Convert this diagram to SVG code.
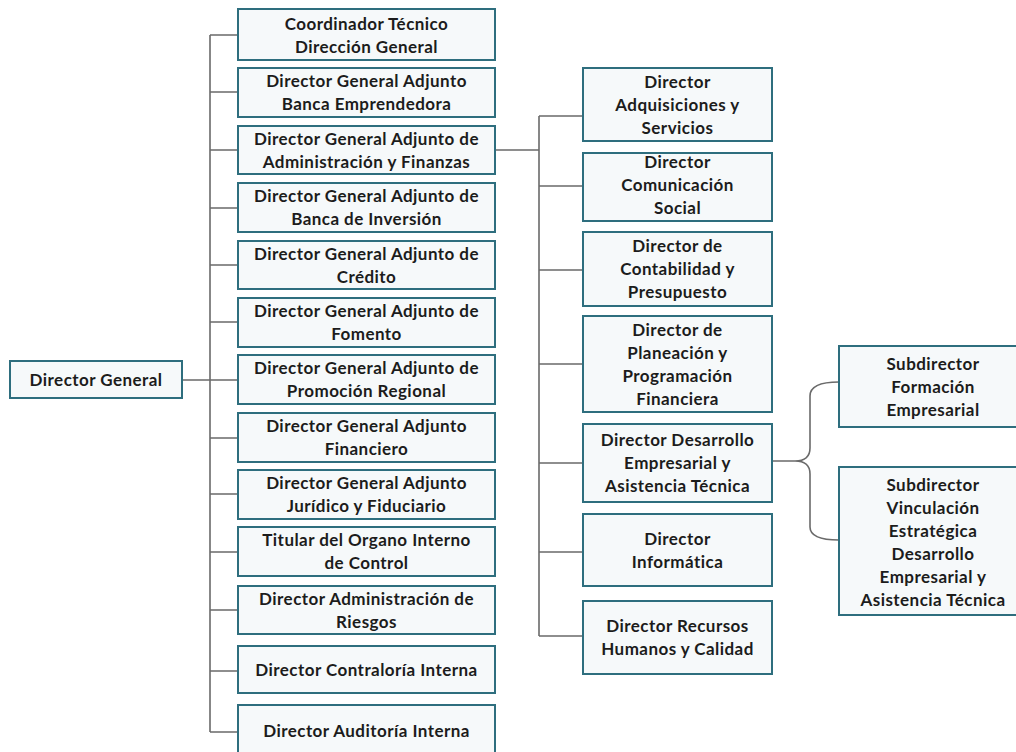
<svg xmlns="http://www.w3.org/2000/svg" width="1016" height="752" viewBox="0 0 1016 752">
<style>
.box{fill:#f6f9fa;stroke:#2e6e7e;stroke-width:2}
.t{font-family:Lato,"Liberation Sans",sans-serif;font-weight:bold;font-size:17px;letter-spacing:0.45px;fill:#1c1c1c;text-anchor:middle}
.c{fill:none;stroke:#6a6a6a;stroke-width:1.6}
</style>
<rect width="1016" height="752" fill="#ffffff"/>
<g id="connectors">
<path class="c" d="M182 380 H210 M210 35 V732 M210 35 H238 M210 92 H238 M210 150 H238 M210 208 H238 M210 265 H238 M210 322 H238 M210 380 H238 M210 438 H238 M210 494 H238 M210 552 H238 M210 610 H238 M210 671 H238 M210 732 H238"/>
<path class="c" d="M495 150 H539 M539 116 V636 M539 116 H583 M539 186 H583 M539 270 H583 M539 364 H583 M539 463 H583 M539 552 H583 M539 636 H583"/>
<path class="c" d="M772 461 H795 Q810 461 810 448 V396 Q810 382 839 382 M795 461 Q810 461 810 474 V527 Q810 540 839 540"/>
</g>
<g id="n-dg"><rect class="box" x="10" y="361" width="172" height="37"/><text class="t" x="96" y="386">Director General</text></g>
<g id="n-l1"><rect class="box" x="238" y="9" width="257" height="51"/><text class="t" x="366.5" y="30">Coordinador Técnico</text><text class="t" x="366.5" y="53">Dirección General</text></g>
<g id="n-l2"><rect class="box" x="238" y="68" width="257" height="49"/><text class="t" x="366.5" y="87">Director General Adjunto</text><text class="t" x="366.5" y="110">Banca Emprendedora</text></g>
<g id="n-l3"><rect class="box" x="238" y="126" width="257" height="48"/><text class="t" x="366.5" y="145">Director General Adjunto de</text><text class="t" x="366.5" y="168">Administración y Finanzas</text></g>
<g id="n-l4"><rect class="box" x="238" y="183" width="257" height="49"/><text class="t" x="366.5" y="202">Director General Adjunto de</text><text class="t" x="366.5" y="225">Banca de Inversión</text></g>
<g id="n-l5"><rect class="box" x="238" y="241" width="257" height="48"/><text class="t" x="366.5" y="260">Director General Adjunto de</text><text class="t" x="366.5" y="283">Crédito</text></g>
<g id="n-l6"><rect class="box" x="238" y="298" width="257" height="49"/><text class="t" x="366.5" y="317">Director General Adjunto de</text><text class="t" x="366.5" y="340">Fomento</text></g>
<g id="n-l7"><rect class="box" x="238" y="355" width="257" height="49"/><text class="t" x="366.5" y="374">Director General Adjunto de</text><text class="t" x="366.5" y="397">Promoción Regional</text></g>
<g id="n-l8"><rect class="box" x="238" y="413" width="257" height="49"/><text class="t" x="366.5" y="432">Director General Adjunto</text><text class="t" x="366.5" y="455">Financiero</text></g>
<g id="n-l9"><rect class="box" x="238" y="470" width="257" height="49"/><text class="t" x="366.5" y="489">Director General Adjunto</text><text class="t" x="366.5" y="512">Jurídico y Fiduciario</text></g>
<g id="n-l10"><rect class="box" x="238" y="527" width="257" height="49"/><text class="t" x="366.5" y="546">Titular del Organo Interno</text><text class="t" x="366.5" y="569">de Control</text></g>
<g id="n-l11"><rect class="box" x="238" y="586" width="257" height="48"/><text class="t" x="366.5" y="605">Director Administración de</text><text class="t" x="366.5" y="628">Riesgos</text></g>
<g id="n-l12"><rect class="box" x="238" y="646" width="257" height="47"/><text class="t" x="366.5" y="676">Director Contraloría Interna</text></g>
<g id="n-l13"><rect class="box" x="238" y="705" width="257" height="52"/><text class="t" x="366.5" y="737">Director Auditoría Interna</text></g>
<g id="n-r1"><rect class="box" x="583" y="68" width="189" height="73"/><text class="t" x="677.5" y="88">Director</text><text class="t" x="677.5" y="111">Adquisiciones y</text><text class="t" x="677.5" y="134">Servicios</text></g>
<g id="n-r2"><rect class="box" x="583" y="153" width="189" height="68"/><text class="t" x="677.5" y="168">Director</text><text class="t" x="677.5" y="191">Comunicación</text><text class="t" x="677.5" y="214">Social</text></g>
<g id="n-r3"><rect class="box" x="583" y="232" width="189" height="74"/><text class="t" x="677.5" y="252">Director de</text><text class="t" x="677.5" y="275">Contabilidad y</text><text class="t" x="677.5" y="298">Presupuesto</text></g>
<g id="n-r4"><rect class="box" x="583" y="316" width="189" height="96"/><text class="t" x="677.5" y="336">Director de</text><text class="t" x="677.5" y="359">Planeación y</text><text class="t" x="677.5" y="382">Programación</text><text class="t" x="677.5" y="405">Financiera</text></g>
<g id="n-r5"><rect class="box" x="583" y="424" width="189" height="78"/><text class="t" x="677.5" y="446">Director Desarrollo</text><text class="t" x="677.5" y="469">Empresarial y</text><text class="t" x="677.5" y="492">Asistencia Técnica</text></g>
<g id="n-r6"><rect class="box" x="583" y="514" width="189" height="72"/><text class="t" x="677.5" y="545">Director</text><text class="t" x="677.5" y="568">Informática</text></g>
<g id="n-r7"><rect class="box" x="583" y="601" width="189" height="73"/><text class="t" x="677.5" y="632">Director Recursos</text><text class="t" x="677.5" y="655">Humanos y Calidad</text></g>
<g id="n-s1"><rect class="box" x="839" y="346" width="188" height="81"/><text class="t" x="933" y="370">Subdirector</text><text class="t" x="933" y="393">Formación</text><text class="t" x="933" y="416">Empresarial</text></g>
<g id="n-s2"><rect class="box" x="839" y="467" width="188" height="148"/><text class="t" x="933" y="491">Subdirector</text><text class="t" x="933" y="514">Vinculación</text><text class="t" x="933" y="537">Estratégica</text><text class="t" x="933" y="560">Desarrollo</text><text class="t" x="933" y="583">Empresarial y</text><text class="t" x="933" y="606">Asistencia Técnica</text></g>
</svg>
